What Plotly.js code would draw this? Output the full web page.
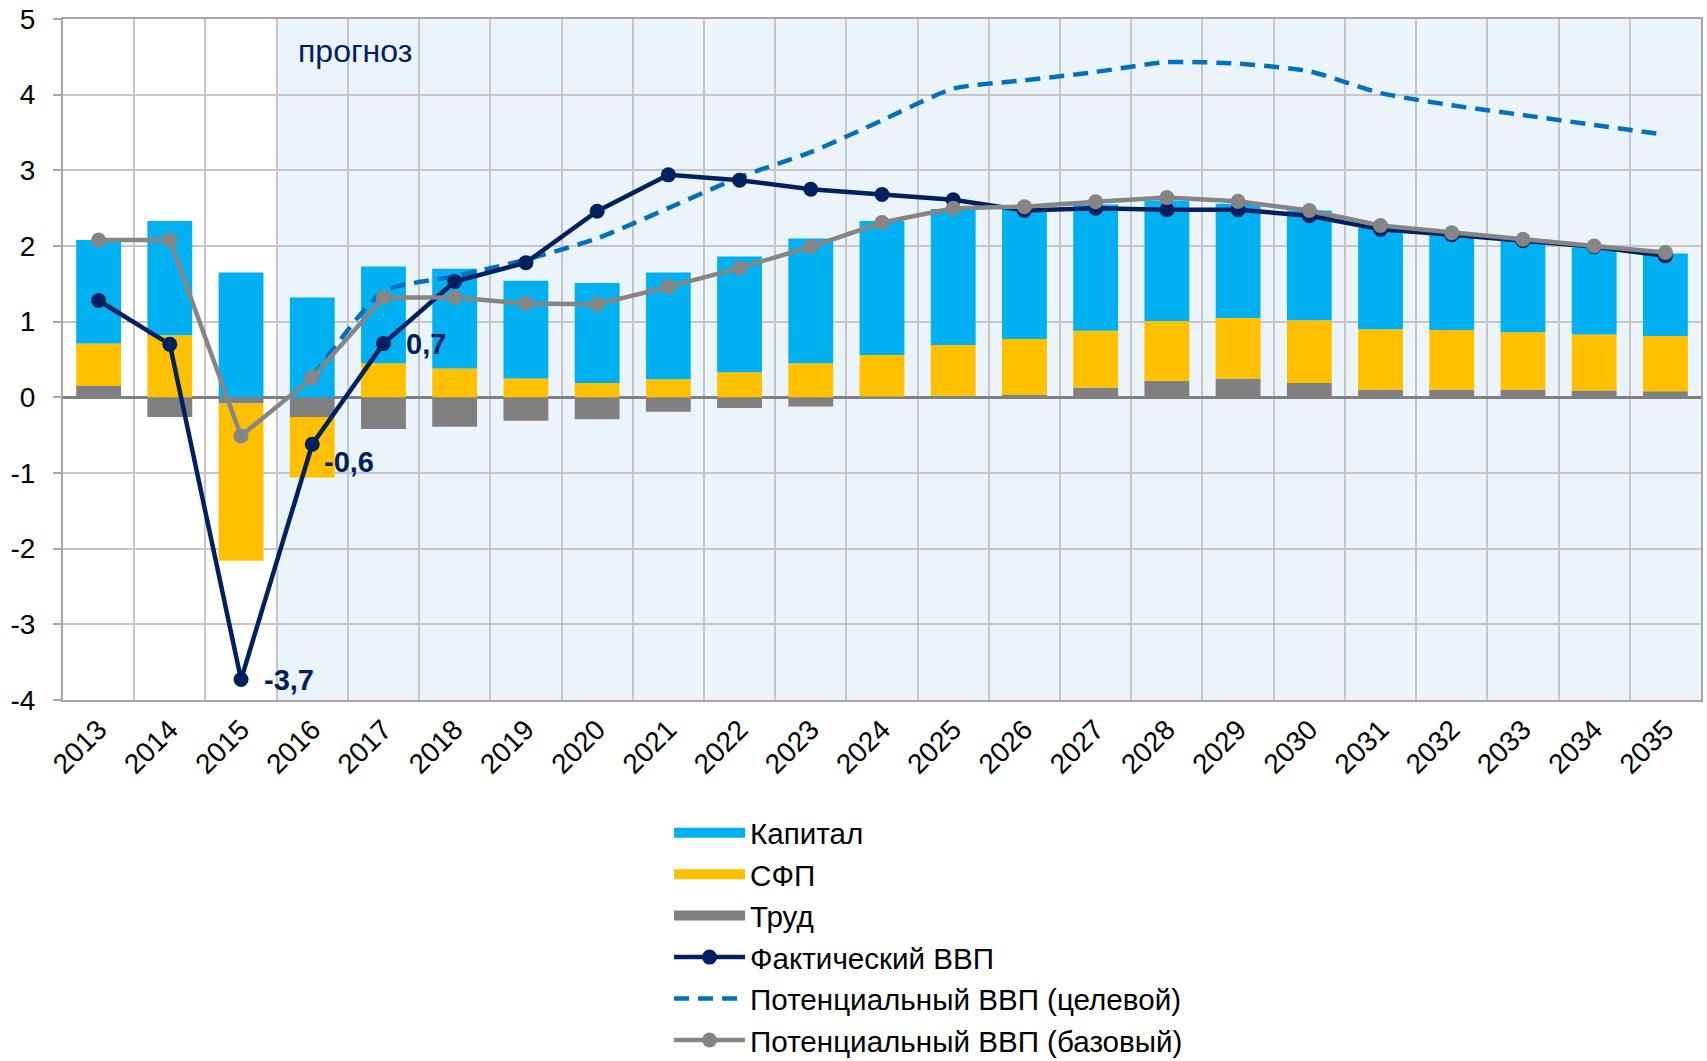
<!DOCTYPE html>
<html>
<head>
<meta charset="utf-8">
<script src="https://cdn.plot.ly/plotly-3.0.1.min.js"></script>
<style>
html, body { margin: 0; padding: 0; background: #ffffff; }
#chart { width: 1707px; height: 1061px; }
</style>
</head>
<body>
<div id="chart"></div>
<script>
// ---- data ----
const years = ['2013','2014','2015','2016','2017','2018','2019','2020','2021','2022','2023','2024',
               '2025','2026','2027','2028','2029','2030','2031','2032','2033','2034','2035'];

const kapital = [1.37, 1.51, 1.65, 1.32, 1.28, 1.32, 1.29, 1.32, 1.41, 1.53, 1.65, 1.77,
                 1.80, 1.73, 1.67, 1.59, 1.51, 1.45, 1.34, 1.26, 1.21, 1.15, 1.09];
const sfp     = [0.56, 0.82, -2.08, -0.80, 0.45, 0.38, 0.25, 0.19, 0.24, 0.33, 0.45, 0.55,
                 0.67, 0.74, 0.75, 0.79, 0.80, 0.83, 0.80, 0.79, 0.76, 0.74, 0.73];
const trud    = [0.15, -0.26, -0.08, -0.26, -0.42, -0.39, -0.31, -0.29, -0.19, -0.14, -0.12, 0.01,
                 0.02, 0.03, 0.13, 0.22, 0.25, 0.19, 0.10, 0.10, 0.10, 0.09, 0.08];

const gdpActual = [1.28, 0.70, -3.73, -0.62, 0.71, 1.53, 1.78, 2.46, 2.94, 2.87, 2.75, 2.68,
                   2.61, 2.47, 2.50, 2.48, 2.48, 2.40, 2.22, 2.15, 2.07, 1.99, 1.87];
const potTarget = [null, null, null, 0.26, 1.40, 1.60, 1.82, 2.10, 2.50, 2.91, 3.24, 3.66,
                   4.08, 4.19, 4.30, 4.43, 4.41, 4.31, 4.02, 3.86, 3.73, 3.60, 3.47];
const potBase   = [2.08, 2.08, -0.51, 0.26, 1.32, 1.32, 1.24, 1.23, 1.46, 1.71, 1.99, 2.31,
                   2.50, 2.52, 2.585, 2.64, 2.59, 2.47, 2.27, 2.175, 2.09, 2.00, 1.915];

const yTickVals = [-4, -3, -2, -1, 0, 1, 2, 3, 4, 5];
const yTickText = ['-4', '-3', '-2', '-1', '0', '1', '2', '3', '4', '5'];

const labelYears = ['2015', '2016', '2017'];
const forecastStart = '2016';
const forecastText = 'прогноз';

const names = {
  kapital: 'Капитал', sfp: 'СФП', trud: 'Труд',
  actual: 'Фактический ВВП', target: 'Потенциальный ВВП (целевой)', base: 'Потенциальный ВВП (базовый)'
};

// ---- style ----
const C = {
  kapital: '#00B0F0', sfp: '#FFC000', trud: '#808080',
  actual: '#002060', target: '#0070C0', base: '#858585',
  grid: '#C6C6C6', axis: '#A6A6A6', shade: '#EBF4FB'
};
const FONT = 'Liberation Sans, Arial, sans-serif';

const bar = (y, name, color) => ({
  type: 'bar', x: years, y: y, name: name, marker: {color: color, line: {width: 0}},
  showlegend: false, hoverinfo: 'x+y+name'
});

const legendSwatch = (name, color, rank) => ({
  type: 'scatter', mode: 'lines', x: [years[0]], y: [null], name: name,
  line: {color: color, width: 14}, legendrank: rank, hoverinfo: 'skip'
});

const traces = [
  bar(trud, names.trud, C.trud),
  bar(sfp, names.sfp, C.sfp),
  bar(kapital, names.kapital, C.kapital),
  {
    type: 'scatter', mode: 'lines', x: years, y: potTarget, name: names.target,
    line: {color: C.target, width: 4.5, dash: '15px,9px', shape: 'spline', smoothing: 0.6},
    connectgaps: false, legendrank: 5
  },
  {
    type: 'scatter', mode: 'lines+markers', x: years, y: gdpActual, name: names.actual,
    line: {color: C.actual, width: 4.5}, marker: {color: C.actual, size: 15}, legendrank: 4
  },
  {
    type: 'scatter', mode: 'lines+markers', x: years, y: potBase, name: names.base,
    line: {color: C.base, width: 4.5}, marker: {color: C.base, size: 15}, legendrank: 6
  },
  legendSwatch(names.kapital, C.kapital, 1),
  legendSwatch(names.sfp, C.sfp, 2),
  legendSwatch(names.trud, C.trud, 3)
];

// data labels for the actual GDP series (positioned by category index)
const labelOffsets = {'2015': [21, 0], '2016': [10, -18], '2017': [21, 0]};
const annotations = labelYears.map(yr => {
  const i = years.indexOf(yr);
  const v = gdpActual[i];
  return {
    x: i, y: v, xref: 'x', yref: 'y', showarrow: false,
    text: '<b>' + v.toFixed(1).replace('.', ',') + '</b>',
    xanchor: 'left', yanchor: 'middle',
    xshift: labelOffsets[yr][0], yshift: labelOffsets[yr][1],
    font: {family: FONT, size: 29, color: C.actual}
  };
});
const fsIdx = years.indexOf(forecastStart);
annotations.push({
  x: fsIdx + 0.6, y: 4.58, xref: 'x', yref: 'y', showarrow: false,
  text: forecastText, xanchor: 'center', yanchor: 'middle',
  font: {family: FONT, size: 32, color: C.actual}
});

const layout = {
  width: 1707, height: 1061,
  margin: {l: 63, r: 6, t: 19, b: 361, autoexpand: false},
  paper_bgcolor: '#ffffff', plot_bgcolor: '#ffffff',
  barmode: 'relative', bargap: 0.37,
  font: {family: FONT, size: 28, color: '#000000'},
  showlegend: true,
  legend: {
    orientation: 'v', x: 0.370, y: -0.157, xanchor: 'left', yanchor: 'top',
    font: {family: FONT, size: 29.6, color: '#000000'},
    itemwidth: 71, traceorder: 'normal', bgcolor: 'rgba(0,0,0,0)', itemclick: false
  },
  xaxis: {
    type: 'category', categoryorder: 'array', categoryarray: years,
    range: [-0.5, years.length - 0.5], autorange: false,
    tickson: 'boundaries', tickangle: -45,
    showgrid: true, gridcolor: C.grid, gridwidth: 2,
    showline: true, linecolor: C.axis, linewidth: 2, mirror: true,
    ticks: '', tickfont: {family: FONT, size: 28, color: '#000000'},
    fixedrange: true
  },
  yaxis: {
    range: [-4, 5], autorange: false,
    tickmode: 'array', tickvals: yTickVals, ticktext: yTickText,
    showgrid: true, gridcolor: C.grid, gridwidth: 2,
    zeroline: true, zerolinecolor: '#808080', zerolinewidth: 3,
    showline: true, linecolor: C.axis, linewidth: 2, mirror: true,
    ticks: 'outside', ticklen: 8, tickcolor: C.axis, tickwidth: 2,
    ticklabelstandoff: 12,
    tickfont: {family: FONT, size: 28, color: '#000000'},
    fixedrange: true
  },
  shapes: [{
    type: 'rect', layer: 'below', xref: 'x', yref: 'paper',
    x0: fsIdx - 0.5, x1: years.length - 0.5, y0: 0, y1: 1,
    fillcolor: C.shade, line: {width: 0}
  }],
  annotations: annotations
};

Plotly.newPlot('chart', traces, layout, {displayModeBar: false, staticPlot: true});
</script>
</body>
</html>
